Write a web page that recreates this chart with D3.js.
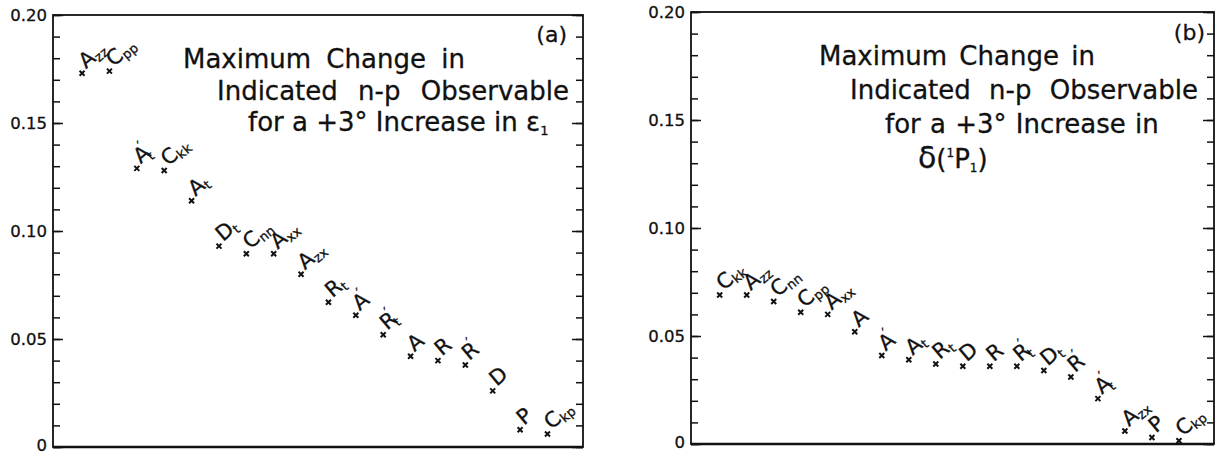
<!DOCTYPE html>
<html><head><meta charset="utf-8">
<script src="https://cdn.jsdelivr.net/npm/d3@7"></script>
<style>
html,body{margin:0;padding:0;background:#fff;}
text{font-family:"DejaVu Sans",sans-serif;fill:#111;}
</style></head>
<body><svg id="c" width="1217" height="455"></svg>
<script>
// Panel (a): +3 deg change in epsilon_1
const obsA = ["A_zz","C_pp","A'_t","C_kk","A_t","D_t","C_nn","A_xx","A_zx","R_t","A'","R'_t","A","R","R'","D","P","C_kp"];
const valA = [0.173,0.174,0.129,0.128,0.114,0.093,0.0895,0.0895,0.080,0.067,0.061,0.052,0.042,0.040,0.038,0.026,0.008,0.006];
// Panel (b): +3 deg change in delta(1P1)
const obsB = ["C_kk","A_zz","C_nn","C_pp","A_xx","A","A'","A_t","R_t","D","R","R'_t","D_t","R'","A'_t","A_zx","P","C_kp"];
const valB = [0.069,0.069,0.066,0.061,0.060,0.052,0.041,0.039,0.037,0.036,0.036,0.036,0.034,0.031,0.021,0.006,0.003,0.0015];
// y axis
const majorTicks = [0,0.05,0.10,0.15,0.20];
const majorLabels = ["0","0.05","0.10","0.15","0.20"];
const minorTicks = d3.range(0,21).map(i=>i/100);

const svg = d3.select("#c");

function panel(cfg){
  const {left,right,top,bottom,obs,vals,tag,titleLines} = cfg;
  const g = svg.append("g");
  const y = d3.scaleLinear().domain([0,0.2]).range([bottom,top]);
  const x = d3.scalePoint().domain(obs).range([left,right]).padding(1.18).align(0.45);

  g.append("g").attr("transform",`translate(${left},0)`)
    .call(d3.axisLeft(y).tickValues(minorTicks).tickSize(-7).tickFormat(""))
    .call(s=>s.select(".domain").remove());
  g.append("g").attr("transform",`translate(${left},0)`)
    .call(d3.axisLeft(y).tickValues(majorTicks).tickSize(-10).tickPadding(6)
      .tickFormat((d,i)=>majorLabels[i]))
    .call(s=>s.select(".domain").remove())
    .call(s=>s.selectAll("text").attr("font-size",16.5).attr("font-family","DejaVu Sans").attr("fill","#111")
      .attr("stroke","#111").attr("stroke-width",0.3).attr("dy",d=>d===0?"0.22em":"0.32em"));
  g.append("g").attr("transform",`translate(${right},0)`)
    .call(d3.axisRight(y).tickValues(minorTicks).tickSize(-7).tickFormat(""))
    .call(s=>s.select(".domain").remove());
  g.append("g").attr("transform",`translate(${right},0)`)
    .call(d3.axisRight(y).tickValues(majorTicks).tickSize(-11).tickFormat(""))
    .call(s=>s.select(".domain").remove());
  g.selectAll(".tick line").attr("stroke","#111").attr("stroke-width",1.5);

  g.append("rect").attr("x",left).attr("y",top).attr("width",right-left).attr("height",bottom-top)
    .attr("fill","none").attr("stroke","#111").attr("stroke-width",1.8);
  g.append("line").attr("x1",left).attr("x2",right).attr("y1",bottom).attr("y2",bottom)
    .attr("stroke","#111").attr("stroke-width",2.4);

  const sym = d3.symbol().type(d3.symbolX).size(18);
  g.selectAll("path.pt").data(obs).join("path").attr("class","pt")
    .attr("d",sym).attr("transform",(d,i)=>`translate(${x(d)},${y(vals[i])})`)
    .attr("stroke","#111").attr("stroke-width",2).attr("fill","none");

  obs.forEach((d,i)=>{
    const px = x(d)+4, py = y(vals[i])-4;
    const outer = g.append("g").attr("transform",`translate(${px},${py})`);
    const t = outer.append("text").attr("font-size",21).attr("transform","rotate(-40)")
      .attr("stroke","#111").attr("stroke-width",0.3);
    const base = d[0];
    const prime = d.includes("'");
    const sub = d.includes("_") ? d.split("_")[1] : "";
    t.append("tspan").text(base);
    if(prime){
      t.append("tspan").attr("font-size",14).attr("dy",-10).attr("dx",-4).text("′");
      if(sub) t.append("tspan").attr("font-size",13).attr("dx",-3).attr("dy",14).text(sub);
    } else if(sub){
      t.append("tspan").attr("font-size",13).attr("dy",3).text(sub);
    }
  });

  g.append("text").attr("x",tag.x).attr("y",tag.y).attr("text-anchor","end").attr("font-size",22)
    .attr("stroke","#111").attr("stroke-width",0.3).text(tag.t);
  titleLines.forEach(L=>{
    const t = g.append("text").attr("x",L.x).attr("y",L.y).attr("font-size",26)
      .attr("word-spacing",L.ws).attr("stroke","#111").attr("stroke-width",0.3);
    L.parts.forEach(p=>{
      const ts = t.append("tspan").text(p.t);
      if(p.fs) ts.attr("font-size",p.fs);
      if(p.dy) ts.attr("dy",p.dy);
    });
  });
}

panel({left:53,right:583,top:15,bottom:447,obs:obsA,vals:valA,
  tag:{x:567,y:42,t:"(a)"},
  titleLines:[
    {x:183,y:68,ws:7,parts:[{t:"Maximum Change in"}]},
    {x:217,y:100,ws:12,parts:[{t:"Indicated n-p Observable"}]},
    {x:248,y:131,ws:0,parts:[{t:"for a +3° Increase in ε"},{t:"1",fs:13,dy:4}]}
  ]});
panel({left:691,right:1214,top:12,bottom:444,obs:obsB,vals:valB,
  tag:{x:1205,y:40,t:"(b)"},
  titleLines:[
    {x:819,y:65,ws:4,parts:[{t:"Maximum Change in"}]},
    {x:850,y:99,ws:10,parts:[{t:"Indicated n-p Observable"}]},
    {x:885,y:133,ws:1,parts:[{t:"for a +3° Increase in"}]},
    {x:918,y:168,ws:0,parts:[{t:"δ",fs:30},{t:"("},{t:"1",fs:12,dy:-11},{t:"P",dy:11},{t:"1",fs:12,dy:4},{t:")",dy:-4}]}
  ]});
</script></body></html>
